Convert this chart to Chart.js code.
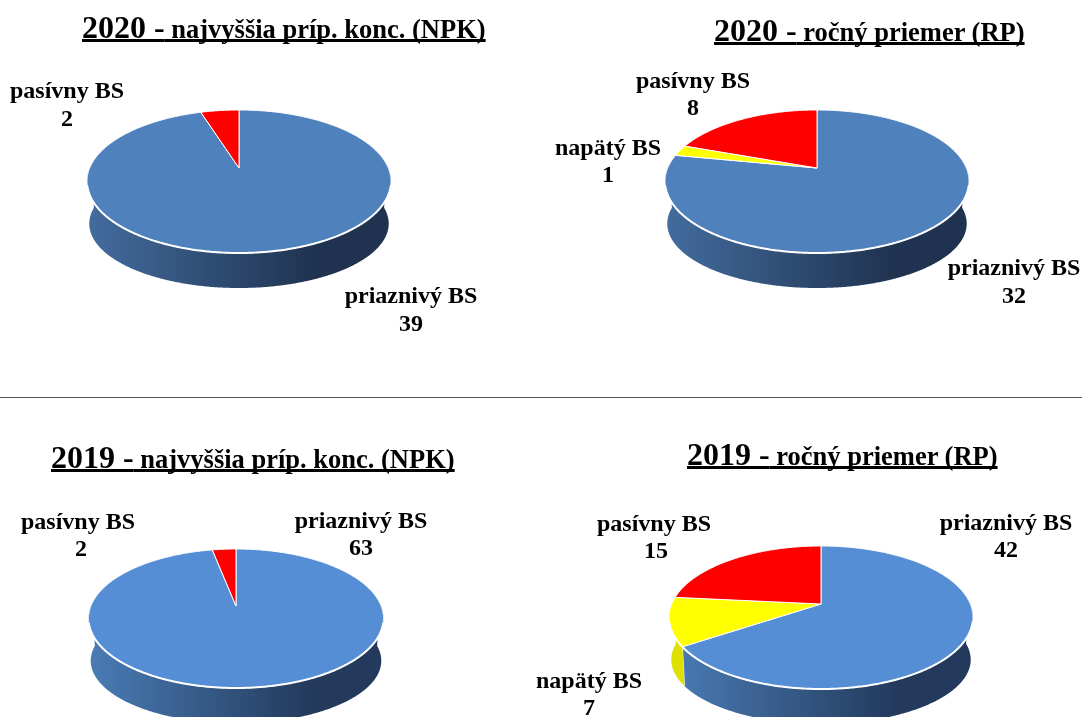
<!DOCTYPE html>
<html lang="sk">
<head>
<meta charset="utf-8">
<title>Bioindikačné stavy</title>
<script src="https://cdn.jsdelivr.net/npm/chart.js@4"></script>
<style>
  html, body { margin: 0; width: 1082px; height: 717px; overflow: hidden; background: #fff; }
  canvas { position: absolute; left: 0; top: 0; }
  .title {
    position: absolute; white-space: nowrap; color: #000; text-decoration: underline;
    text-decoration-thickness: 3px; text-underline-offset: 1px; text-decoration-skip-ink: none;
    font: bold 26.5px "Liberation Serif", serif; line-height: 36px; z-index: 2;
  }
  .title b { font-size: 32px; }
  #rule { position: absolute; left: 0; top: 397px; width: 1082px; height: 1px; background: #555; }
</style>
</head>
<body>
<div id="rule"></div>
<canvas id="pie0" width="1082" height="717"></canvas>
<canvas id="pie1" width="1082" height="717"></canvas>
<canvas id="pie2" width="1082" height="717"></canvas>
<canvas id="pie3" width="1082" height="717"></canvas>
<script>
const categories = ["priaznivý BS", "napätý BS", "pasívny BS"];
const npk2020 = [39, 0, 2];
const rp2020 = [32, 1, 8];
const npk2019 = [63, 0, 2];
const rp2019 = [42, 7, 15];
const years = ["2020", "2020", "2019", "2019"];
const titles = [
  "najvyššia príp. konc. (NPK)",
  "ročný priemer (RP)",
  "najvyššia príp. konc. (NPK)",
  "ročný priemer (RP)",
];

// apex = point where the slices meet, the rest is the outline of the top face
// labels: [name x, name baseline, value x, value baseline] for each category
const layouts = [
  {
    apexX: 239, apexY: 168, halfWidth: 152, up: 58, down: 85, blue: "#4f81bd",
    wall: ["#436c9e", "#1f3350"], titleX: 82, titleY: 9,
    labels: [[411, 303.3, 411, 330.7], null, [67, 98.3, 67, 125.7]],
  },
  {
    apexX: 817, apexY: 168, halfWidth: 152, up: 58, down: 85, blue: "#4f81bd",
    wall: ["#436c9e", "#1f3350"], titleX: 714, titleY: 11.5,
    labels: [[1014, 275, 1014, 302.7], [608, 155, 608, 181.7], [693, 87.7, 693, 115]],
  },
  {
    apexX: 236, apexY: 606, halfWidth: 147.5, up: 57, down: 82, blue: "#558ed5",
    wall: ["#4a7cb5", "#233a5c"], titleX: 51, titleY: 438.5,
    labels: [[361, 527.7, 361, 555], null, [78, 529, 81, 556]],
  },
  {
    apexX: 821, apexY: 604, halfWidth: 152, up: 58, down: 85, blue: "#558ed5",
    wall: ["#4a7cb5", "#233a5c"], titleX: 687, titleY: 436,
    labels: [[1006, 530, 1006, 556.7], [589, 687.7, 589, 715], [654, 531, 656, 557.7]],
  },
];

const DEPTH = 43.5;
const RIM_SCALE_X = 0.985;
const RIM_SCALE_Y = 0.9;

// perspective view of a flat disc: its centre is not the centre of the ellipse
function project(layout, angle) {
  const k = (layout.down - layout.up) / (layout.down + layout.up);
  const b = layout.down * (1 - k);
  const a = layout.halfWidth * Math.sqrt(1 - k * k);
  const w = 1 - k * Math.sin(angle);
  return { x: (a * Math.cos(angle)) / w, y: (b * Math.sin(angle)) / w };
}

function facePoint(layout, angle) {
  const p = project(layout, angle);
  return { x: layout.apexX + p.x, y: layout.apexY + p.y };
}

function rimPoint(layout, angle) {
  const p = project(layout, angle);
  return {
    x: layout.apexX + p.x * RIM_SCALE_X,
    y: layout.apexY + p.y * RIM_SCALE_Y + DEPTH,
  };
}

function steps(from, to) {
  const list = [];
  const n = Math.max(2, Math.ceil((to - from) / 0.01));
  for (let i = 0; i <= n; i++) list.push(from + ((to - from) * i) / n);
  return list;
}

function drawWall(ctx, layout, arc, color) {
  const from = Math.max(arc.startAngle, -0.06);
  const to = Math.min(arc.endAngle, Math.PI + 0.06);
  if (to <= from) return;

  ctx.beginPath();
  steps(from, to).forEach((angle) => {
    const p = facePoint(layout, angle);
    ctx.lineTo(p.x, p.y);
  });
  steps(from, to).reverse().forEach((angle) => {
    const p = rimPoint(layout, angle);
    ctx.lineTo(p.x, p.y);
  });
  ctx.closePath();

  if (color === layout.blue) {
    const left = layout.apexX - layout.halfWidth;
    const gradient = ctx.createLinearGradient(left, 0, left + layout.halfWidth * 2, 0);
    gradient.addColorStop(0, layout.wall[0]);
    gradient.addColorStop(0.75, layout.wall[1]);
    gradient.addColorStop(1, layout.wall[1]);
    ctx.fillStyle = gradient;
  } else {
    ctx.fillStyle = color === "#ffff00" ? "#e0e000" : "#d00000";
  }
  ctx.fill();

  // white seam where two slices meet on the front of the pie
  if (arc.endAngle > 0 && arc.endAngle < Math.PI) {
    const top = facePoint(layout, arc.endAngle);
    const bottom = rimPoint(layout, arc.endAngle);
    ctx.beginPath();
    ctx.moveTo(top.x, top.y);
    ctx.lineTo(bottom.x, bottom.y);
    ctx.strokeStyle = "#e8eef6";
    ctx.lineWidth = 1.2;
    ctx.stroke();
  }
}

function drawFace(ctx, layout, arc, color) {
  const outline = steps(arc.startAngle, arc.endAngle).map((angle) => facePoint(layout, angle));

  ctx.beginPath();
  ctx.moveTo(layout.apexX, layout.apexY);
  outline.forEach((p) => ctx.lineTo(p.x, p.y));
  ctx.closePath();
  ctx.fillStyle = color;
  ctx.fill();
  ctx.strokeStyle = "#ffffff";
  ctx.lineWidth = 1;
  ctx.stroke();
}

// the bright edge along the front of the top face
function drawFrontEdge(ctx, layout) {
  ctx.beginPath();
  steps(0.25, Math.PI - 0.25).forEach((angle) => {
    const p = facePoint(layout, angle);
    ctx.lineTo(p.x, p.y);
  });
  ctx.strokeStyle = "#ffffff";
  ctx.lineWidth = 2;
  ctx.lineCap = "round";
  ctx.stroke();
}

const pie3d = {
  id: "pie3d",
  // the arcs are laid out by the doughnut controller, only their painting is replaced
  beforeDatasetDraw(chart) {
    const { layout } = chart.options.plugins.pie3d;
    const ctx = chart.ctx;
    const arcs = chart.getDatasetMeta(0).data;
    const colors = chart.data.datasets[0].backgroundColor;
    arcs.forEach((arc, i) => {
      if (chart.data.datasets[0].data[i] > 0) drawWall(ctx, layout, arc, colors[i]);
    });
    arcs.forEach((arc, i) => {
      if (chart.data.datasets[0].data[i] > 0) drawFace(ctx, layout, arc, colors[i]);
    });
    drawFrontEdge(ctx, layout);
    return false;
  },
  afterDatasetsDraw(chart) {
    const { layout } = chart.options.plugins.pie3d;
    const ctx = chart.ctx;
    ctx.save();
    ctx.fillStyle = "#000";
    ctx.font = 'bold 24px "Liberation Serif", serif';
    ctx.textAlign = "center";
    ctx.textBaseline = "alphabetic";
    chart.data.labels.forEach((label, i) => {
      const pos = layout.labels[i];
      if (!pos) return;
      ctx.fillText(label, pos[0], pos[1]);
      ctx.fillText(String(chart.data.datasets[0].data[i]), pos[2], pos[3]);
    });
    ctx.restore();
  },
};

[npk2020, rp2020, npk2019, rp2019].forEach((values, i) => {
  const layout = layouts[i];

  new Chart(document.getElementById("pie" + i), {
    type: "pie",
    data: {
      labels: categories,
      datasets: [
        {
          data: values,
          backgroundColor: [layout.blue, "#ffff00", "#ff0000"],
        },
      ],
    },
    options: {
      responsive: false,
      animation: false,
      events: [],
      plugins: {
        legend: { display: false },
        tooltip: { enabled: false },
        pie3d: { layout: layout },
      },
    },
    plugins: [pie3d],
  });

  const title = document.createElement("div");
  title.className = "title";
  title.style.left = layout.titleX + "px";
  title.style.top = layout.titleY + "px";
  title.innerHTML = "<b>" + years[i] + " -</b> " + titles[i];
  document.body.appendChild(title);
});
</script>
</body>
</html>
